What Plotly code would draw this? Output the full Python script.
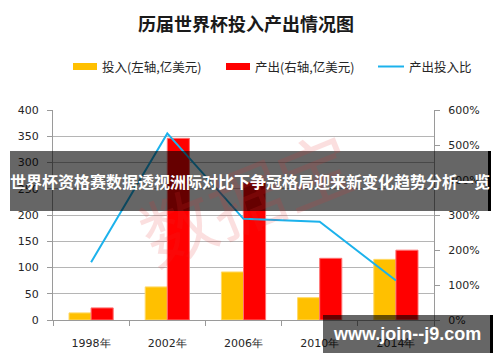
import plotly.graph_objects as go

# ---- data ----
years = ["1998年", "2002年", "2006年", "2010年", "2014年"]
investment = [13.5, 63, 91.5, 42.5, 115.5]      # 投入 (亿美元)
output = [23, 346, 262, 117.5, 133]             # 产出 (亿美元)
ratio = [1.65, 5.33, 2.89, 2.81, 1.13]          # 产出投入比
left_ticks = [0, 50, 100, 150, 200, 250, 300, 350, 400]
right_ticks = [0, 1, 2, 3, 4, 5, 6]

W, H = 500, 362
L, R, T, B = 53, 434, 110, 320  # plot area in pixels


def px(x):
    return (x - L) / (R - L)


def py(y):
    return (B - y) / (B - T)


TICK_FONT = dict(family="DejaVu Sans", size=11, color="#262626")
CJK = "Noto Sans CJK SC"

fig = go.Figure()
fig.add_trace(go.Bar(x=years, y=investment, name="投入(左轴,亿美元)",
                     marker=dict(color="#FFC000", line=dict(color="#FFD966", width=1)),
                     showlegend=False))
fig.add_trace(go.Bar(x=years, y=output, name="产出(右轴,亿美元)",
                     marker=dict(color="#FF0000", line=dict(color="#FF7070", width=1)),
                     showlegend=False))
fig.add_trace(go.Scatter(x=years, y=ratio, name="产出投入比", yaxis="y2", mode="lines",
                         line=dict(color="#1CB2EC", width=2), showlegend=False))

fig.update_layout(
    width=W, height=H,
    margin=dict(l=L, r=W - R, t=T, b=H - B, pad=0),
    paper_bgcolor="white", plot_bgcolor="white",
    barmode="group", bargap=0.42, bargroupgap=0,
    title=dict(text="<b>历届世界杯投入产出情况图</b>", x=0.492, xanchor="center",
               y=1 - 25 / H, yanchor="middle",
               font=dict(family=CJK, size=18, color="#1a1a1a")),
    xaxis=dict(type="category", showline=True, linecolor="#9a9a9a", linewidth=1,
               ticks="outside", tickson="boundaries", ticklen=5, tickcolor="#9a9a9a",
               tickfont=dict(family="DejaVu Sans", size=11, color="#262626"),
               ticklabelstandoff=13, showgrid=False, zeroline=False, fixedrange=True),
    yaxis=dict(range=[0, 400], tickvals=left_ticks, showline=True, linecolor="#9a9a9a",
               linewidth=1, ticks="outside", ticklen=5, tickcolor="#9a9a9a",
               showgrid=True, gridcolor="#b5b5b5", gridwidth=1, zeroline=False,
               tickfont=TICK_FONT, ticklabelstandoff=6),
    yaxis2=dict(range=[0, 6], tickvals=right_ticks, tickformat=".0%", overlaying="y",
                side="right", showline=True, linecolor="#9a9a9a", linewidth=1,
                ticks="outside", ticklen=5, tickcolor="#9a9a9a", showgrid=False,
                zeroline=False, tickfont=TICK_FONT, ticklabelstandoff=6),
)

shapes = []
annotations = []

# legend (manual, Excel-style wide swatches)
LEG_Y = 66.5
shapes.append(dict(type="rect", xref="paper", yref="paper", x0=px(73), x1=px(97),
                   y0=py(63), y1=py(70), fillcolor="#FFC000", line=dict(width=0)))
shapes.append(dict(type="rect", xref="paper", yref="paper", x0=px(226), x1=px(250),
                   y0=py(63), y1=py(70), fillcolor="#FF0000", line=dict(width=0)))
shapes.append(dict(type="line", xref="paper", yref="paper", x0=px(378), x1=px(404),
                   y0=py(LEG_Y), y1=py(LEG_Y), line=dict(color="#1CB2EC", width=2)))
for xx, txt in [(100, "投入(左轴,亿美元)"), (253, "产出(右轴,亿美元)"), (407, "产出投入比")]:
    annotations.append(dict(xref="paper", yref="paper", x=px(xx), y=py(LEG_Y),
                            xanchor="left", yanchor="middle", showarrow=False, text=txt,
                            font=dict(family=CJK, size=12.5, color="#262626")))

# faint red background stamp
annotations.append(dict(xref="paper", yref="paper", x=px(245), y=py(195), showarrow=False,
                        text="数据宝", textangle=-22, opacity=0.15,
                        font=dict(family=CJK, size=74, color="#E83030")))

# dark banner with headline
shapes.append(dict(type="rect", xref="paper", yref="paper", x0=px(10), x1=px(488),
                   y0=py(211), y1=py(151), fillcolor="rgba(0,0,0,0.6)", line=dict(width=0),
                   layer="above"))
shapes.append(dict(type="rect", xref="paper", yref="paper", x0=px(488), x1=px(491),
                   y0=py(211), y1=py(151), fillcolor="#000000", line=dict(width=0),
                   layer="above"))
annotations.append(dict(xref="paper", yref="paper", x=px(250), y=py(181), showarrow=False,
                        xanchor="center", yanchor="middle",
                        text="<b>世界杯资格赛数据透视洲际对比下争冠格局迎来新变化趋势分析一览</b>",
                        font=dict(family=CJK, size=16, color="white")))

# bottom-right site watermark
shapes.append(dict(type="rect", xref="paper", yref="paper", x0=px(323), x1=px(490),
                   y0=py(353), y1=py(315), fillcolor="rgba(0,0,0,0.6)", line=dict(width=0),
                   layer="above"))
shapes.append(dict(type="rect", xref="paper", yref="paper", x0=px(490), x1=px(493),
                   y0=py(353), y1=py(315), fillcolor="#000000", line=dict(width=0),
                   layer="above"))
annotations.append(dict(xref="paper", yref="paper", x=px(407), y=py(334), showarrow=False,
                        xanchor="center", yanchor="middle", text="<b>www.join--j9.com</b>",
                        font=dict(family="Liberation Sans", size=18, color="white")))

fig.update_layout(shapes=shapes, annotations=annotations)
fig.write_html("out.html", config={"displayModeBar": False},
               post_script="document.body.style.margin='0';document.body.style.overflow='hidden';")
